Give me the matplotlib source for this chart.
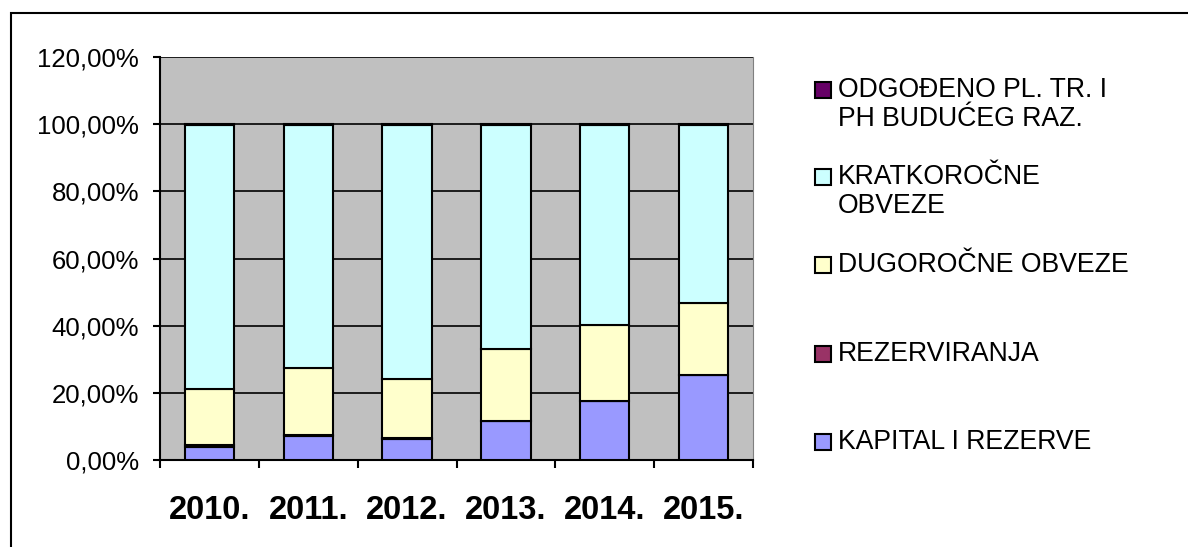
import matplotlib.pyplot as plt
from matplotlib.patches import Rectangle
from matplotlib.ticker import FuncFormatter, FixedLocator

plt.rcParams['font.family'] = ['Liberation Sans', 'DejaVu Sans']

# ---------- podaci (udio u pasivi, %) ----------
godine = ["2010.", "2011.", "2012.", "2013.", "2014.", "2015."]
kapital = [4.0, 7.0, 6.3, 11.5, 17.6, 25.3]
rezerviranja = [0.6, 0.4, 0.3, 0.1, 0.1, 0.1]
dugorocne = [16.5, 19.9, 17.4, 21.4, 22.5, 21.3]
kratkorocne = [78.6, 72.5, 75.8, 66.8, 59.6, 53.1]
odgodeno = [0.3, 0.2, 0.2, 0.2, 0.2, 0.2]

serije = [
    ("KAPITAL I REZERVE", kapital, "#9999FF"),
    ("REZERVIRANJA", rezerviranja, "#993366"),
    ("DUGOROČNE OBVEZE", dugorocne, "#FFFFCC"),
    ("KRATKOROČNE\nOBVEZE", kratkorocne, "#CCFFFF"),
    ("ODGOĐENO PL. TR. I\nPH BUDUĆEG RAZ.", odgodeno, "#660066"),
]

W, H = 1188, 547
fig = plt.figure(figsize=(W / 100, H / 100), dpi=100)


def fx(px):
    return px / W


def fy(py):
    return 1 - py / H


# okvir grafikona
fig.patches.append(Rectangle((fx(11), fy(600)), 1.2, fy(13) - fy(600),
                             transform=fig.transFigure, fill=False,
                             edgecolor='black', linewidth=1.5))

ax = fig.add_axes([fx(160), fy(460), fx(753) - fx(160), fy(57) - fy(460)])
ax.set_facecolor('#C0C0C0')

x = list(range(len(godine)))
dno = [0.0] * len(godine)
for naziv, vrijednosti, boja in serije:
    ax.bar(x, vrijednosti, width=0.5, bottom=dno, color=boja,
           edgecolor='black', linewidth=1.5, zorder=3)
    dno = [d + v for d, v in zip(dno, vrijednosti)]

ax.set_xlim(-0.5, len(godine) - 0.5)
ax.set_ylim(0, 120)
ax.set_yticks(range(0, 121, 20))
ax.yaxis.set_major_formatter(
    FuncFormatter(lambda v, _: f"{v:.2f}%".replace('.', ',')))
ax.grid(axis='y', color='black', linewidth=1.2, zorder=1)
ax.set_axisbelow(True)

# oznake godina u sredini, crtice na granicama kategorija
ax.set_xticks(x)
ax.set_xticklabels(godine, fontsize=23.5, fontweight='bold')
ax.xaxis.set_minor_locator(FixedLocator([i - 0.5 for i in range(len(godine) + 1)]))
ax.tick_params(axis='x', which='major', length=0, pad=25)
ax.tick_params(axis='x', which='minor', length=6, width=1.5, direction='out')
ax.tick_params(axis='y', length=5, width=1.5, labelsize=18.5, pad=10)

ax.spines['top'].set_visible(False)
ax.spines['right'].set_color('#808080')
ax.spines['left'].set_linewidth(1.5)
ax.spines['bottom'].set_linewidth(1.5)

# ---------- legenda ----------
legenda_y = {
    "ODGOĐENO PL. TR. I\nPH BUDUĆEG RAZ.": 90,
    "KRATKOROČNE\nOBVEZE": 177,
    "DUGOROČNE OBVEZE": 265,
    "REZERVIRANJA": 354,
    "KAPITAL I REZERVE": 442,
}
for naziv, _, boja in serije:
    yc = legenda_y[naziv]
    fig.patches.append(Rectangle((fx(815), fy(yc + 8)), fx(16), fy(yc - 8) - fy(yc + 8),
                                 transform=fig.transFigure, facecolor=boja,
                                 edgecolor='black', linewidth=1.5))
    for i, redak in enumerate(naziv.split("\n")):
        fig.text(fx(838), fy(yc + 29 * i), redak, fontsize=19.2,
                 va='center', ha='left')

fig.savefig("out.png", dpi=100)
